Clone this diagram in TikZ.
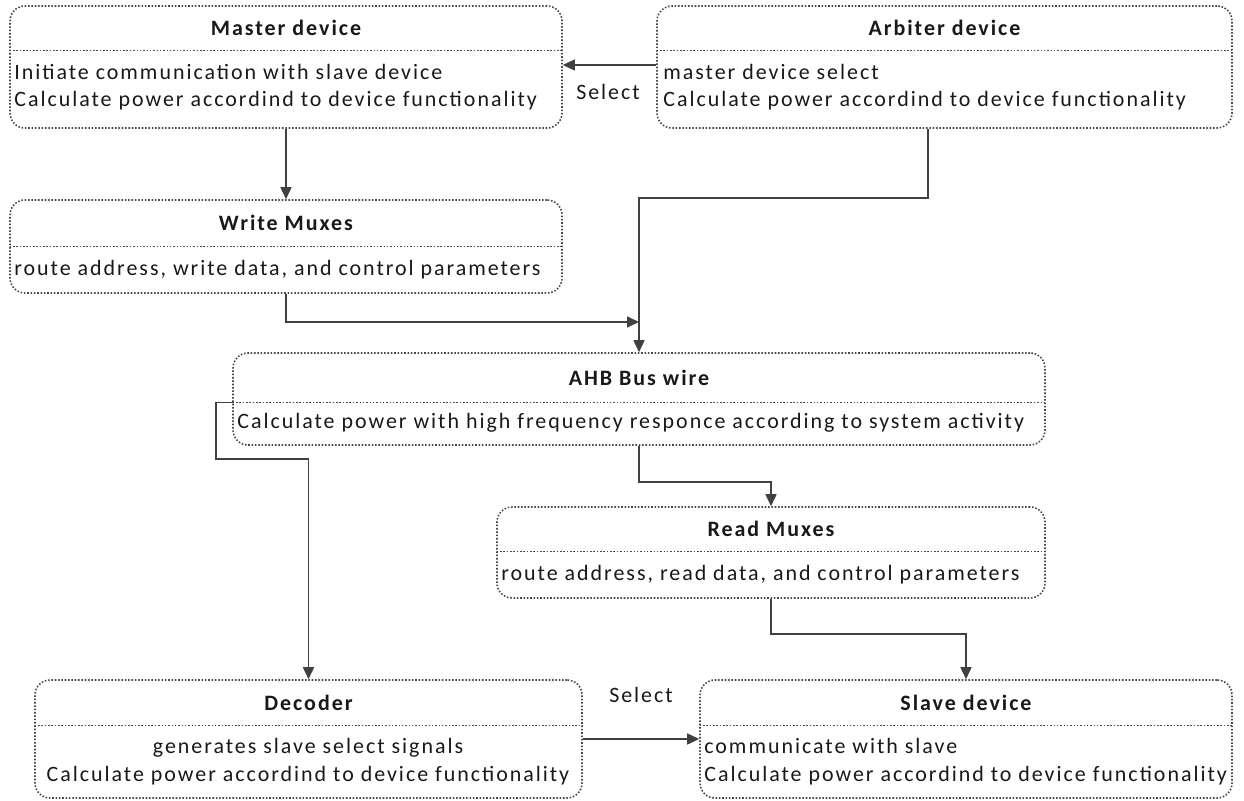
\documentclass[tikz,border=0pt]{standalone}
\usepackage{fontspec}
\setmainfont{Carlito}[LetterSpace=9]
\usetikzlibrary{positioning,fit,calc,arrows.meta}
\definecolor{wiregray}{HTML}{404040}
\definecolor{dotgray}{HTML}{484848}
\tikzset{box node/.style={draw=dotgray,densely dotted,line width=0.9pt,rounded corners=3mm,inner sep=0pt},
  head node/.style={inner sep=0pt,label={[inner sep=0pt,font=\fontsize{12.5}{14}\selectfont\bfseries]center:#1}},
  body node/.style={inner sep=0pt,anchor=west,align=left},
  sep line/.style={draw=dotgray,densely dotted,line width=0.9pt},
  wire/.style={draw=wiregray,line width=0.9pt,-{Triangle[length=2.4mm,width=2.2mm]}},
  label node/.style={inner sep=0pt}}

\begin{document}
\begin{tikzpicture}[x=0.02cm,y=-0.02cm,font=\fontsize{12.5}{15}\selectfont,text=black!90]
      \useasboundingbox (0,0) rectangle (1244,801);
      % boxes
      \node[box node,fit={(10,6) (562,128)}] (master) {};
      \node[head node={Master device},fit={(10,6) (562,50)}] (masterT) {};
      \node[body node] (masterB) at (14,87) {Initiate communication with slave device\\Calculate power accordind to device functionality};

      \node[box node,fit={(657,6) (1232,128)}] (arbiter) {};
      \node[head node={Arbiter device},fit={(657,6) (1232,50)}] (arbiterT) {};
      \node[body node] (arbiterB) at (663,87) {master device select\\Calculate power accordind to device functionality};

      \node[box node,fit={(10,200) (562,293)}] (wmux) {};
      \node[head node={Write Muxes},fit={(10,200) (562,246)}] (wmuxT) {};
      \node[body node] (wmuxB) at (14,270) {route address, write data, and control parameters};

      \node[box node,fit={(233,353) (1045,445)}] (ahb) {};
      \node[head node={AHB Bus wire},fit={(233,353) (1045,402)}] (ahbT) {};
      \node[body node] (ahbB) at (237,423) {Calculate power with high frequency responce according to system activity};

      \node[box node,fit={(497,507) (1045,598)}] (rmux) {};
      \node[head node={Read Muxes},fit={(497,507) (1045,551)}] (rmuxT) {};
      \node[body node] (rmuxB) at (501,575) {route address, read data, and control parameters};

      \node[box node,fit={(35,680) (582,798)}] (decoder) {};
      \node[head node={Decoder},fit={(35,680) (582,725)}] (decoderT) {};
      \node[inner sep=0pt,align=center,font=\fontsize{12.5}{16}\selectfont] (decoderB) at (308,762) {generates slave select signals\\Calculate power accordind to device functionality};

      \node[box node,fit={(700,680) (1232,798)}] (slave) {};
      \node[head node={Slave device},fit={(700,680) (1232,725)}] (slaveT) {};
      \node[body node,font=\fontsize{12.5}{16}\selectfont] (slaveB) at (704,762) {communicate with slave\\Calculate power accordind to device functionality};

      % separators
      \foreach \n in {masterT,arbiterT,wmuxT,ahbT,rmuxT,decoderT,slaveT}
        \draw[sep line] (\n.south west) -- (\n.south east);

      % labels
      \node[label node] (selA) at (608,92) {Select};
      \node[label node] (selB) at (641,695) {Select};

      % connectors
      \draw[wire] (arbiter.west |- 0,65) -- (master.east |- 0,65);
      \draw[wire] (master.south) -- (wmux.north);
      \draw[wire] (arbiter.south -| 928,0) -- (928,198) -| (ahb.north);
      \draw[wire] (wmux.south) |- (ahb.north |- 0,322);
      \draw[wire] (ahb.south) -- (ahb.south |- 0,482) -| (rmux.north);
      \draw[wire] (ahbT.south west) -| (216,459) -| (decoder.north);
      \draw[wire] (rmux.south) -- (rmux.south |- 0,634) -| (slave.north);
      \draw[wire] (decoder.east) -- (slave.west);
    \end{tikzpicture}
\end{document}
